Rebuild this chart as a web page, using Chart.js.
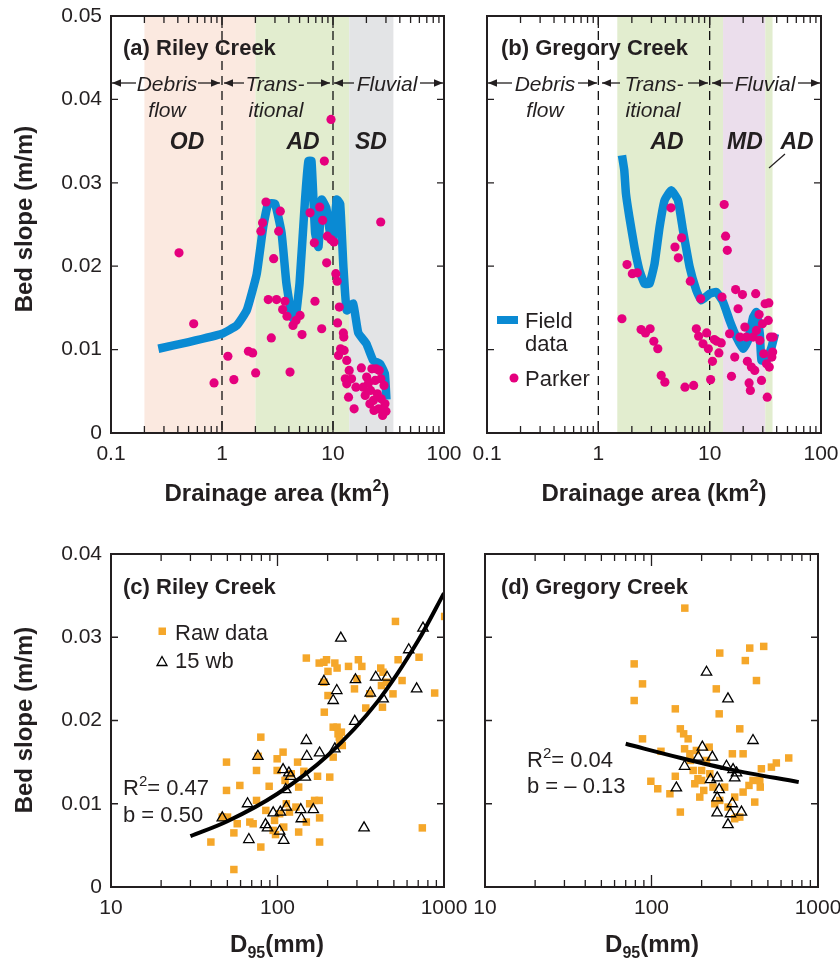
<!DOCTYPE html>
<html><head><meta charset="utf-8">
<script src="https://cdn.jsdelivr.net/npm/chart.js@4"></script>
<style>
body{margin:0;background:#fff;width:840px;height:962px;position:relative;overflow:hidden}
canvas{position:absolute}
</style></head><body>
<canvas id="ca" width="480" height="520" style="left:0;top:0"></canvas>
<canvas id="cb" width="380" height="520" style="left:460px;top:0"></canvas>
<canvas id="cc" width="480" height="442" style="left:0;top:520px"></canvas>
<canvas id="cd" width="380" height="442" style="left:460px;top:520px"></canvas>
<script>
// ---------- DATA ----------
// (a) Riley Creek: field data (drainage area km2, bed slope)
const fieldAreaA  = [0.267,0.5,1.0,1.36,1.67,2.05,2.35,2.61,3.0,3.44,3.8,4.26,4.57,5.0,5.6,6.0,6.4,6.9,7.4,7.9,8.7,9.4,10.0,10.8,11.6,12.4,13.3,15.2,16.9,20,23,26.5,29.3,30.3];
const fieldSlopeA = [0.0101,0.0109,0.0119,0.0129,0.0147,0.019,0.0247,0.0275,0.0275,0.024,0.018,0.0139,0.0135,0.018,0.028,0.0326,0.0326,0.024,0.0223,0.028,0.027,0.024,0.023,0.028,0.0275,0.02,0.0147,0.0155,0.012,0.0107,0.0087,0.0083,0.0071,0.004];
// (a) Parker points
const parkerAreaA  = [0.41,0.556,0.848,1.13,1.28,1.73,1.89,2.01,2.24,2.32,2.49,2.61,2.78,2.92,3.10,3.24,3.35,3.52,3.69,3.85,4.10,4.36,4.64,5.05,5.26,6.21,6.79,6.88,7.59,7.91,8.07,8.36,8.77,8.89,9.60,9.6,10.2,10.6,10.9,11.0,11.4,11.2,11.7,12.4,12.5,12.6,13.3,12.9,13.3,14.0,13.8,14.7,15.5,16.1,18.0,18.7,19.5,20.1,20.9,21.8,22.4,23.1,24.0,24.4,25.1,25.8,26.1,26.9,27.0,28.0,28.8,29.4,30.0,27.2,21.5,23.4];
const parkerSlopeA = [0.0216,0.0131,0.0060,0.0092,0.0064,0.0098,0.0096,0.0072,0.0242,0.0252,0.0277,0.0160,0.0114,0.0209,0.0160,0.0242,0.0266,0.0148,0.0158,0.0140,0.0073,0.0129,0.0135,0.0141,0.0118,0.0264,0.0228,0.0158,0.0271,0.0125,0.0255,0.0326,0.0204,0.0236,0.0376,0.0232,0.0229,0.0191,0.0182,0.0132,0.0151,0.0093,0.0101,0.0120,0.0115,0.0099,0.0087,0.0065,0.0059,0.0075,0.0043,0.0065,0.0029,0.0055,0.0078,0.0055,0.0045,0.0067,0.0060,0.0051,0.0077,0.0039,0.0063,0.0077,0.0047,0.0029,0.0075,0.0253,0.0065,0.0021,0.0057,0.0035,0.0026,0.0041,0.0035,0.0027];
// (b) Gregory Creek field data
const fieldAreaB  = [1.63,1.71,1.77,1.90,2.11,2.34,2.60,2.88,3.20,3.55,3.94,4.52,5.19,5.76,6.61,7.59,8.41,10.0,11.5,13.2,15.1,17.4,20.0,22.1,24.6,26.3,28.2,29.2,32.4,36.0,38.6];
const fieldSlopeB = [0.0333,0.0315,0.0287,0.0259,0.0223,0.0195,0.0179,0.0179,0.0203,0.0247,0.0279,0.0291,0.0279,0.0243,0.0199,0.0171,0.0159,0.0167,0.0169,0.0157,0.0135,0.0115,0.0101,0.0111,0.0139,0.0145,0.0119,0.0087,0.0087,0.0103,0.0119];
// (b) Parker points
const parkerAreaB  = [1.63,1.81,2.02,2.24,2.42,2.65,2.92,3.15,3.42,3.67,3.96,4.49,4.88,5.23,5.60,6.00,7.18,6.70,7.59,7.96,8.30,8.71,9.40,9.73,10.2,10.6,11.0,11.6,12.1,12.7,12.9,13.5,13.9,14.4,15.1,15.7,16.8,17.1,18.0,18.7,19.7,20.7,21.4,21.8,22.6,23.2,23.7,24.6,25.4,25.9,26.3,27.8,28.2,29.2,29.8,30.6,31.5,32.4,32.9,33.6,34.0,34.3,35.2,36.2,37.2,36.8];
const parkerSlopeB = [0.0137,0.0202,0.0191,0.0192,0.0124,0.0120,0.0125,0.0110,0.0101,0.0069,0.0061,0.0270,0.0223,0.0210,0.0234,0.0055,0.0057,0.0182,0.0125,0.0116,0.0161,0.0107,0.0120,0.0101,0.0064,0.0086,0.0112,0.0110,0.0096,0.0108,0.0163,0.0274,0.0236,0.0219,0.0119,0.0068,0.0091,0.0172,0.0149,0.0115,0.0166,0.0127,0.0115,0.0086,0.0060,0.0051,0.0079,0.0115,0.0075,0.0167,0.0123,0.0142,0.0111,0.0063,0.0131,0.0095,0.0155,0.0083,0.0043,0.0135,0.0156,0.0079,0.0115,0.0091,0.0115,0.0097];
// (c) Riley Creek: D95 (mm) vs bed slope
const rawD95C   = [39.8,46.6,50.1,54.7,54.7,49.4,49.4,59.4,57.3,68.2,71.4,74.8,74.8,76.5,79.4,79.4,85.1,89.1,94.2,97.3,99.5,99.5,103,108,109,111,113,121,129,132,134,134,144,149,156,167,174,178,179,179,149,178,190,191,197,201,201,206,216,216,221,228,228,231,237,242,267,290,306,321,339,358,417,427,421,451,494,511,530,560,708,741,879,1009,190,235,245,300,430,96,118];
const rawSlopeC = [0.0054,0.0084,0.0084,0.0021,0.0065,0.0150,0.0116,0.0122,0.0076,0.0078,0.0076,0.0140,0.0104,0.0157,0.0180,0.0048,0.0092,0.0121,0.0068,0.0063,0.0154,0.0140,0.0088,0.0162,0.0072,0.0128,0.0100,0.0136,0.0096,0.0150,0.0120,0.0066,0.0139,0.0078,0.0100,0.0104,0.0133,0.0104,0.0054,0.0083,0.0275,0.0269,0.0246,0.0210,0.0273,0.0259,0.0230,0.0132,0.0156,0.0192,0.0269,0.0263,0.0192,0.0184,0.0176,0.0186,0.0265,0.0238,0.0273,0.0265,0.0215,0.0232,0.0263,0.0216,0.0242,0.0246,0.0232,0.0319,0.0273,0.0248,0.0276,0.0071,0.0233,0.0325,0.0270,0.0180,0.0170,0.0250,0.0258,0.0080,0.0090];
const wbD95C   = [46.6,66.1,67.3,76.2,84.7,87.1,94.2,103,104,108,109,112,113,117,120,138,139,147,149,150,164,179,190,216,221,227,240,291,294,331,361,389,431,455,614,685,748];
const wbSlopeC = [0.0083,0.0100,0.0057,0.0157,0.0075,0.0071,0.0089,0.0067,0.0090,0.0141,0.0056,0.0117,0.0096,0.0137,0.0133,0.0093,0.0082,0.0132,0.0176,0.0157,0.0093,0.0161,0.0247,0.0224,0.0166,0.0236,0.0299,0.0199,0.0249,0.0071,0.0233,0.0252,0.0226,0.0252,0.0285,0.0238,0.0311];
const fitD95C   = [30,50,100,200,400,700,1000];
const fitSlopeC = [0.0061,0.0079,0.0112,0.0158,0.0223,0.0296,0.0353];
// (d) Gregory Creek
const rawD95D   = [158.5,78.7,88.3,78.7,88.3,99.1,109,114,129,139,139,149,149,156,166,158,171,178,182,186,195,200,206,214,222,224,234,245,257,255,257,275,288,306,316,324,339,355,355,366,389,385,407,417,427,447,457,472,450,525,562,667,339,316,200,190,170,240];
const rawSlopeD = [0.0335,0.0268,0.0244,0.0224,0.0178,0.0127,0.0118,0.0163,0.0112,0.0214,0.0133,0.0090,0.0190,0.0184,0.0178,0.0166,0.0152,0.0140,0.0124,0.0164,0.0108,0.0128,0.0116,0.0152,0.0168,0.0136,0.0120,0.0238,0.0281,0.0208,0.0104,0.0120,0.0096,0.0160,0.0108,0.0084,0.0190,0.0160,0.0114,0.0272,0.0287,0.0122,0.0128,0.0102,0.0248,0.0128,0.0142,0.0289,0.0120,0.0144,0.0149,0.0155,0.0084,0.0082,0.0140,0.0130,0.0160,0.0100];
const wbD95D   = [141,158,191,202,214,226,232,248,248,248,255,282,288,288,298,306,309,316,324,347,407];
const wbSlopeD = [0.0119,0.0145,0.0156,0.0168,0.0258,0.0129,0.0156,0.0131,0.0107,0.0089,0.0117,0.0145,0.0226,0.0075,0.0088,0.0100,0.0141,0.0131,0.0137,0.0090,0.0176];
const fitD95D   = [70,150,300,766];
const fitSlopeD = [0.0172,0.0155,0.0141,0.0126];
// axes ticks
const areaMajor = [0.1,1,10,100];
const d95Major  = [10,100,1000];
const slopeTicksTop = [0,0.01,0.02,0.03,0.04,0.05];
const slopeTicksBot = [0,0.01,0.02,0.03,0.04];
// zone bands [from, to] in km2 and region boundaries
const bandsA = [[0.2,2],[2,14],[14,35]];
const bandsB = [[1.48,13.2],[13.2,31.6],[31.6,36.7]];
const regionBounds = [1,10];

// ---------- STYLE / HELPERS ----------
const FONT = '"Liberation Sans", Arial, Helvetica, sans-serif';
const INK = '#231f20';
const BLUE = '#0a8ad3', PINK = '#e5007e', ORANGE = '#f5a72a';
function minorsFor(majors){const m=[];for(let i=0;i<majors.length-1;i++){for(let k=2;k<=9;k++)m.push(+(majors[i]*k).toPrecision(6));}return m;}
const pts = (xs,ys)=>xs.map((v,i)=>({x:v,y:ys[i]}));

function rich(ctx,x,y,parts,size,weight,align){
  let w=0;
  const fontFor=p=>`${weight} ${p[1]?Math.round(size*0.68):size}px ${FONT}`;
  parts.forEach(p=>{ctx.font=fontFor(p);w+=ctx.measureText(p[0]).width;});
  let cx = align==='center'? x-w/2 : x;
  ctx.textAlign='left';ctx.textBaseline='alphabetic';
  parts.forEach(p=>{ctx.font=fontFor(p);let dy=0;if(p[1]==='sup')dy=-size*0.42;if(p[1]==='sub')dy=size*0.25;ctx.fillText(p[0],cx,y+dy);cx+=ctx.measureText(p[0]).width;});
}
function arrow(ctx,x1,x2,y,dir){
  ctx.beginPath();ctx.moveTo(x1,y);ctx.lineTo(x2,y);ctx.lineWidth=1.3;ctx.stroke();
  const tip = dir==='L'?x1:x2, s = dir==='L'?1:-1;
  ctx.beginPath();ctx.moveTo(tip,y);ctx.lineTo(tip+s*9,y-3.8);ctx.lineTo(tip+s*9,y+3.8);ctx.closePath();ctx.fill();
}
function text(ctx,s,x,y,size,style,align){ctx.font=`${style} ${size}px ${FONT}`;ctx.textAlign=align||'left';ctx.textBaseline='alphabetic';ctx.fillText(s,x,y);}

const extras = {
  ca:{bands:bandsA,bandColors:['#fbe9e0','#e2edcf','#e3e4e6'],dashes:regionBounds,xMajor:areaMajor,
      draw(ctx){
        ctx.fillStyle=INK;ctx.strokeStyle=INK;
        text(ctx,'(a) Riley Creek',123,55,22,'bold');
        [[112,136,'L'],[198,220,'R'],[224,244,'L'],[307,330,'R'],[334,354,'L'],[420,443,'R']].forEach(a=>arrow(ctx,a[0],a[1],83,a[2]));
        text(ctx,'Debris',167,91,21,'italic','center');text(ctx,'Trans-',275,91,21,'italic','center');text(ctx,'Fluvial',387,91,21,'italic','center');
        text(ctx,'flow',167,117,21,'italic','center');text(ctx,'itional',276,117,21,'italic','center');
        text(ctx,'OD',187,149,23,'italic bold','center');text(ctx,'AD',303,149,23,'italic bold','center');text(ctx,'SD',371,149,23,'italic bold','center');
        ctx.save();ctx.translate(32,219);ctx.rotate(-Math.PI/2);rich(ctx,0,0,[['Bed slope (m/m)']],24,'bold','center');ctx.restore();
        rich(ctx,277,501,[['Drainage area (km'],['2','sup'],[')']],24,'bold','center');
      }},
  cb:{bands:bandsB,bandColors:['#e2edcf','#ebdeec','#e2edcf'],dashes:regionBounds,xMajor:areaMajor,
      draw(ctx){
        ctx.fillStyle=INK;ctx.strokeStyle=INK;
        text(ctx,'(b) Gregory Creek',41,55,22,'bold');
        [[28,52,'L'],[118,137,'R'],[142,160,'L'],[228,248,'R'],[252,273,'L'],[338,360,'R']].forEach(a=>arrow(ctx,a[0],a[1],83,a[2]));
        text(ctx,'Debris',85,91,21,'italic','center');text(ctx,'Trans-',194,91,21,'italic','center');text(ctx,'Fluvial',305,91,21,'italic','center');
        text(ctx,'flow',85,117,21,'italic','center');text(ctx,'itional',193,117,21,'italic','center');
        text(ctx,'AD',207,149,23,'italic bold','center');text(ctx,'MD',285,149,23,'italic bold','center');text(ctx,'AD',337,149,23,'italic bold','center');
        ctx.beginPath();ctx.moveTo(325,154);ctx.lineTo(309,168);ctx.lineWidth=1.2;ctx.stroke();
        ctx.fillStyle=BLUE;ctx.fillRect(37,316,21,8);
        ctx.fillStyle=PINK;ctx.beginPath();ctx.arc(54,378,4.5,0,Math.PI*2);ctx.fill();
        ctx.fillStyle=INK;
        text(ctx,'Field',65,328,22,'normal');text(ctx,'data',65,351,22,'normal');text(ctx,'Parker',65,386,22,'normal');
        rich(ctx,194,501,[['Drainage area (km'],['2','sup'],[')']],24,'bold','center');
      }},
  cc:{xMajor:d95Major,
      draw(ctx){
        ctx.fillStyle=INK;ctx.strokeStyle=INK;
        text(ctx,'(c) Riley Creek',123,74,22,'bold');
        ctx.fillStyle=ORANGE;ctx.fillRect(158.5,107.5,7.5,7.5);
        ctx.strokeStyle='#000';ctx.lineWidth=1.3;ctx.beginPath();ctx.moveTo(162,136.5);ctx.lineTo(167,145.5);ctx.lineTo(157,145.5);ctx.closePath();ctx.stroke();
        ctx.fillStyle=INK;
        text(ctx,'Raw data',175,120,22,'normal');text(ctx,'15 wb',175,148,22,'normal');
        rich(ctx,123,275,[['R'],['2','sup'],['= 0.47']],22,'normal');
        text(ctx,'b = 0.50',123,302,22,'normal');
        ctx.save();ctx.translate(32,200);ctx.rotate(-Math.PI/2);rich(ctx,0,0,[['Bed slope (m/m)']],24,'bold','center');ctx.restore();
        rich(ctx,277,432,[['D'],['95','sub'],['(mm)']],24,'bold','center');
      }},
  cd:{xMajor:d95Major,
      draw(ctx){
        ctx.fillStyle=INK;
        text(ctx,'(d) Gregory Creek',41,74,22,'bold');
        rich(ctx,67,247,[['R'],['2','sup'],['= 0.04']],22,'normal');
        text(ctx,'b = \u2013 0.13',67,273,22,'normal');
        rich(ctx,192,432,[['D'],['95','sub'],['(mm)']],24,'bold','center');
      }}
};

const decor = {
  id:'decor',
  beforeDatasetsDraw(chart){
    const e=extras[chart.canvas.id];const {ctx,chartArea:a,scales:{x}}=chart;
    ctx.save();
    (e.bands||[]).forEach((b,i)=>{const x1=x.getPixelForValue(b[0]),x2=x.getPixelForValue(b[1]);ctx.fillStyle=e.bandColors[i];ctx.fillRect(x1,a.top,x2-x1,a.bottom-a.top);});
    ctx.strokeStyle='#111';ctx.lineWidth=1.3;ctx.setLineDash([9,6]);
    (e.dashes||[]).forEach(v=>{const px=x.getPixelForValue(v);ctx.beginPath();ctx.moveTo(px,a.top);ctx.lineTo(px,a.bottom);ctx.stroke();});
    ctx.restore();
  },
  afterDatasetsDraw(chart){
    const e=extras[chart.canvas.id];const {ctx,chartArea:a,scales:{x,y}}=chart;
    ctx.save();
    ctx.strokeStyle=INK;ctx.lineWidth=1.3;ctx.beginPath();
    const xmaj=e.xMajor, xmin=minorsFor(xmaj);
    xmaj.forEach(v=>{const p=x.getPixelForValue(v);ctx.moveTo(p,a.bottom);ctx.lineTo(p,a.bottom-12);ctx.moveTo(p,a.top);ctx.lineTo(p,a.top+12);});
    xmin.forEach(v=>{const p=x.getPixelForValue(v);ctx.moveTo(p,a.bottom);ctx.lineTo(p,a.bottom-7);ctx.moveTo(p,a.top);ctx.lineTo(p,a.top+7);});
    y.ticks.forEach(t=>{const p=y.getPixelForValue(t.value);ctx.moveTo(a.left,p);ctx.lineTo(a.left+7,p);ctx.moveTo(a.right,p);ctx.lineTo(a.right-7,p);});
    ctx.stroke();
    ctx.lineWidth=2;ctx.strokeRect(a.left,a.top,a.right-a.left,a.bottom-a.top);
    e.draw(ctx);
    ctx.restore();
  }
};

function makeChart(id,datasets,xr,xMajor,yTicks,showY,dims){
  new Chart(document.getElementById(id),{
    type:'scatter',
    data:{datasets},
    options:{
      responsive:false,animation:false,
      layout:{padding:{left:0,right:dims.right,top:dims.top,bottom:0}},
      plugins:{legend:{display:false},tooltip:{enabled:false}},
      scales:{
        x:{type:'logarithmic',min:xr[0],max:xr[1],
           grid:{display:false,drawTicks:false},border:{display:false},
           afterBuildTicks:s=>{s.ticks=xMajor.concat(minorsFor(xMajor)).sort((p,q)=>p-q).map(v=>({value:v}));},
           afterFit:s=>{s.height=dims.xh;s.paddingLeft=0;s.paddingRight=0;},
           ticks:{autoSkip:false,maxRotation:0,minRotation:0,padding:9,color:INK,font:{family:FONT,size:21},
             callback:v=>xMajor.includes(v)?String(v):''}},
        y:{type:'linear',min:0,max:yTicks[yTicks.length-1],
           grid:{display:false,drawTicks:false},border:{display:false},
           afterBuildTicks:s=>{s.ticks=yTicks.map(v=>({value:v}));},
           afterFit:s=>{s.width=dims.yw;s.paddingTop=0;s.paddingBottom=0;},
           ticks:{display:showY,autoSkip:false,padding:9,color:INK,font:{family:FONT,size:21},
             callback:v=>v===0?'0':v.toFixed(2)}}
      }
    },
    plugins:[decor]
  });
}

const parkerStyle = {backgroundColor:PINK,borderColor:PINK,pointRadius:4.6,borderWidth:0,pointHoverRadius:4.6};
const fieldStyle = {type:'line',borderColor:BLUE,borderWidth:8.5,pointRadius:0,tension:0.12,showLine:true,fill:false,borderCapStyle:'butt'};
const rawStyle = {pointStyle:'rect',backgroundColor:ORANGE,borderColor:ORANGE,borderWidth:0,pointRadius:5.3};
const wbStyle = {pointStyle:'triangle',backgroundColor:'rgba(0,0,0,0)',borderColor:'#000',borderWidth:1.3,pointRadius:6};
const fitStyle = {type:'line',borderColor:'#000',borderWidth:4,pointRadius:0,cubicInterpolationMode:'monotone',showLine:true,fill:false};

makeChart('ca',[
  Object.assign({label:'Parker',data:pts(parkerAreaA,parkerSlopeA)},parkerStyle),
  Object.assign({label:'Field data',data:pts(fieldAreaA,fieldSlopeA)},fieldStyle)
],[0.1,100],areaMajor,slopeTicksTop,true,{right:36,top:16,xh:87,yw:111});
makeChart('cb',[
  Object.assign({label:'Parker',data:pts(parkerAreaB,parkerSlopeB)},parkerStyle),
  Object.assign({label:'Field data',data:pts(fieldAreaB,fieldSlopeB)},fieldStyle)
],[0.1,100],areaMajor,slopeTicksTop,false,{right:19,top:16,xh:87,yw:27});
makeChart('cc',[
  Object.assign({label:'fit',data:pts(fitD95C,fitSlopeC)},fitStyle),
  Object.assign({label:'15 wb',data:pts(wbD95C,wbSlopeC)},wbStyle),
  Object.assign({label:'Raw data',data:pts(rawD95C,rawSlopeC)},rawStyle)
],[10,1000],d95Major,slopeTicksBot,true,{right:36,top:34,xh:75,yw:111});
makeChart('cd',[
  Object.assign({label:'fit',data:pts(fitD95D,fitSlopeD)},fitStyle),
  Object.assign({label:'15 wb',data:pts(wbD95D,wbSlopeD)},wbStyle),
  Object.assign({label:'Raw data',data:pts(rawD95D,rawSlopeD)},rawStyle)
],[10,1000],d95Major,slopeTicksBot,false,{right:22,top:34,xh:75,yw:25});
</script>
</body></html>
